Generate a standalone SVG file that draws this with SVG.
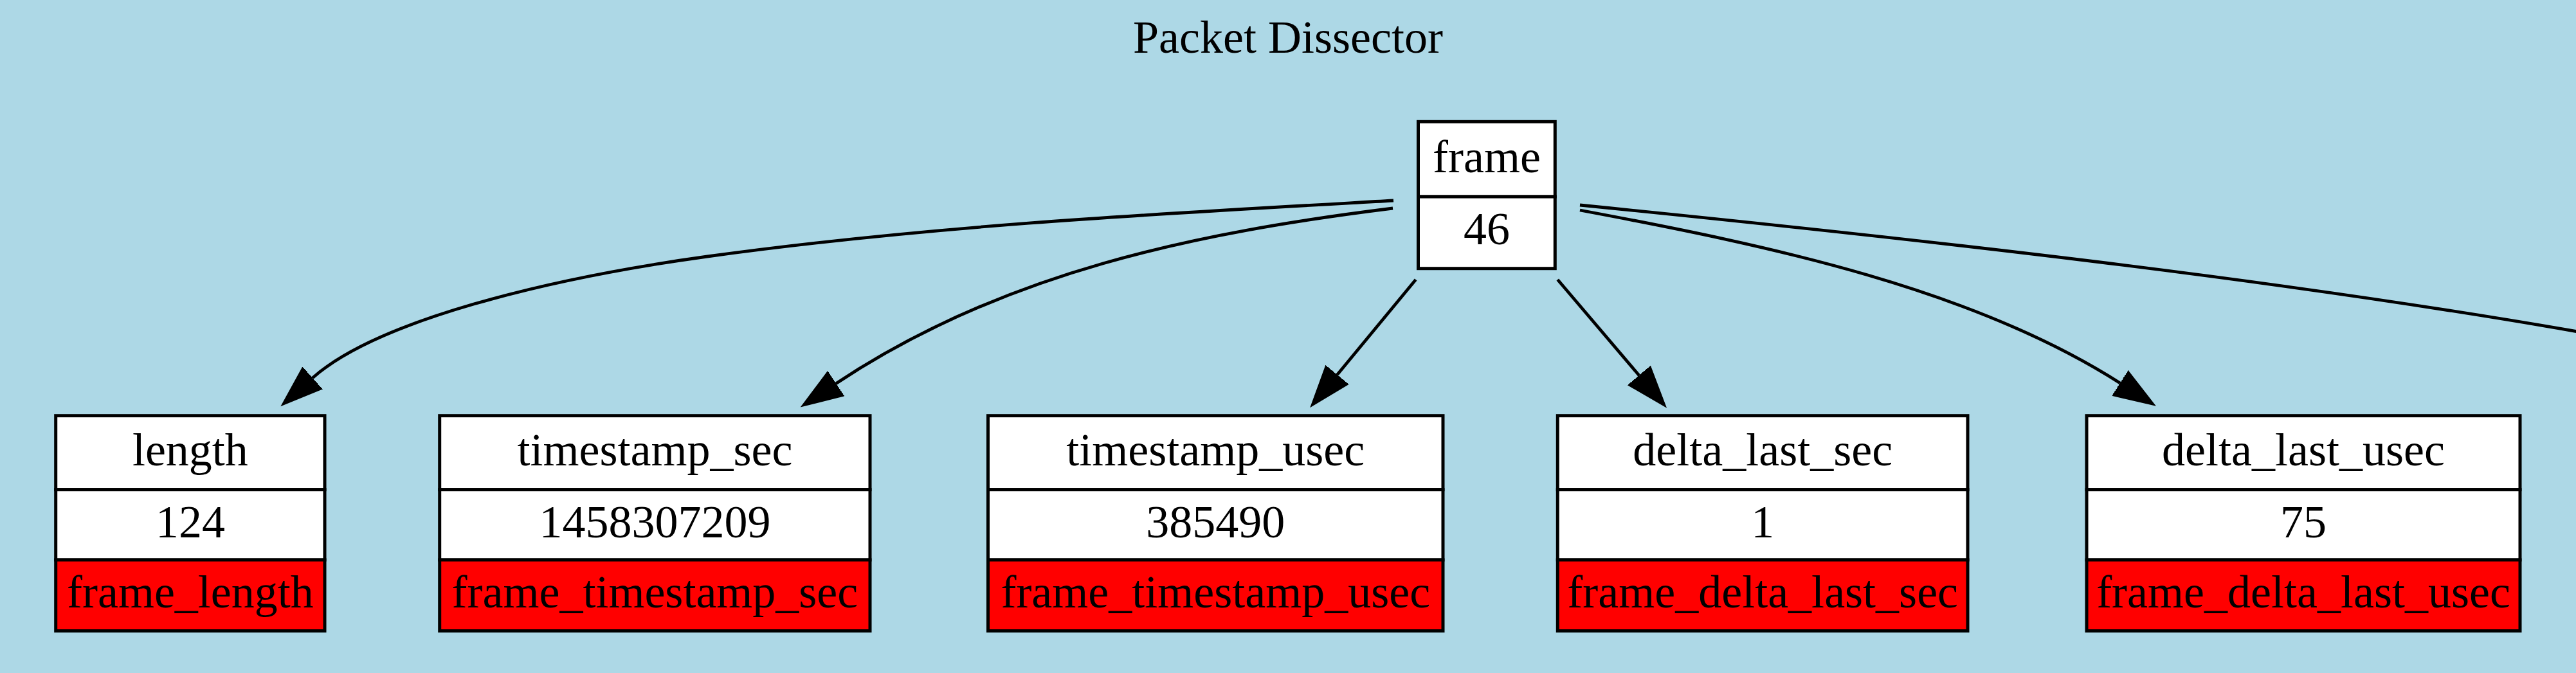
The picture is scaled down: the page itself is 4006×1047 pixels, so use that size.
<svg xmlns="http://www.w3.org/2000/svg" width="4006" height="1047" viewBox="0 0 4006 1047">
<style>
text{font-family:"Liberation Serif","Times New Roman",serif;font-size:72px;fill:#000;text-anchor:middle}
.f{fill:#fff;stroke:#000;stroke-width:5}
.r{fill:#ff0000;stroke:#000;stroke-width:5}
.e{fill:none;stroke:#000;stroke-width:4.8}
.a{marker-end:url(#ah)}
</style>
<defs>
<marker id="ah" markerUnits="userSpaceOnUse" viewBox="0 -25 70 50" markerWidth="70" markerHeight="50" refX="0" refY="0" orient="auto">
<path d="M0,-22 L62,0 L0,22 Z" fill="#000" stroke="#000" stroke-width="3"/>
</marker>
</defs>
<rect x="0" y="0" width="4006" height="1047" fill="#add8e6"/>
<text id="title" x="2003" y="81.7">Packet Dissector</text>
<g id="connectors">
<path class="e a" d="M2167,312 C1812,332 1455,350 1100,399 C850,433.5 586,499 486,588"/>
<path class="e a" d="M2166,324 C1860,362 1560,423.6 1300,596.7"/>
<path class="e a" d="M2201.7,435 L2079.5,583"/>
<path class="e a" d="M2422.3,435 L2549,584"/>
<path class="e a" d="M2457,327 C2757,383 3069,450 3297,596"/>
<path class="e" d="M2457,319 C2957,369 3560,435 4060,525"/>
</g>
<g id="frame">
<rect class="f" x="2205.5" y="189.3" width="212.8" height="116.7"/>
<rect class="f" x="2205.5" y="306" width="212.8" height="111.7"/>
<text x="2312" y="268">frame</text>
<text x="2312" y="380">46</text>
</g>
<g id="length">
<rect class="f" x="86.7" y="646.7" width="418.3" height="115"/>
<rect class="f" x="86.7" y="761.7" width="418.3" height="109.3"/>
<rect class="r" x="86.7" y="871" width="418.3" height="110.5"/>
<text x="295.9" y="724">length</text>
<text x="295.9" y="836">124</text>
<text x="295.9" y="945">frame_length</text>
</g>
<g id="timestamp_sec">
<rect class="f" x="683.7" y="646.7" width="669.3" height="115"/>
<rect class="f" x="683.7" y="761.7" width="669.3" height="109.3"/>
<rect class="r" x="683.7" y="871" width="669.3" height="110.5"/>
<text x="1018.4" y="724">timestamp_sec</text>
<text x="1018.4" y="836">1458307209</text>
<text x="1018.4" y="945">frame_timestamp_sec</text>
</g>
<g id="timestamp_usec">
<rect class="f" x="1536.5" y="646.7" width="707.5" height="115"/>
<rect class="f" x="1536.5" y="761.7" width="707.5" height="109.3"/>
<rect class="r" x="1536.5" y="871" width="707.5" height="110.5"/>
<text x="1890.3" y="724">timestamp_usec</text>
<text x="1890.3" y="836">385490</text>
<text x="1890.3" y="945">frame_timestamp_usec</text>
</g>
<g id="delta_last_sec">
<rect class="f" x="2422.3" y="646.7" width="637.7" height="115"/>
<rect class="f" x="2422.3" y="761.7" width="637.7" height="109.3"/>
<rect class="r" x="2422.3" y="871" width="637.7" height="110.5"/>
<text x="2741.2" y="724">delta_last_sec</text>
<text x="2741.2" y="836">1</text>
<text x="2741.2" y="945">frame_delta_last_sec</text>
</g>
<g id="delta_last_usec">
<rect class="f" x="3245" y="646.7" width="674" height="115"/>
<rect class="f" x="3245" y="761.7" width="674" height="109.3"/>
<rect class="r" x="3245" y="871" width="674" height="110.5"/>
<text x="3582" y="724">delta_last_usec</text>
<text x="3582" y="836">75</text>
<text x="3582" y="945">frame_delta_last_usec</text>
</g>
</svg>
